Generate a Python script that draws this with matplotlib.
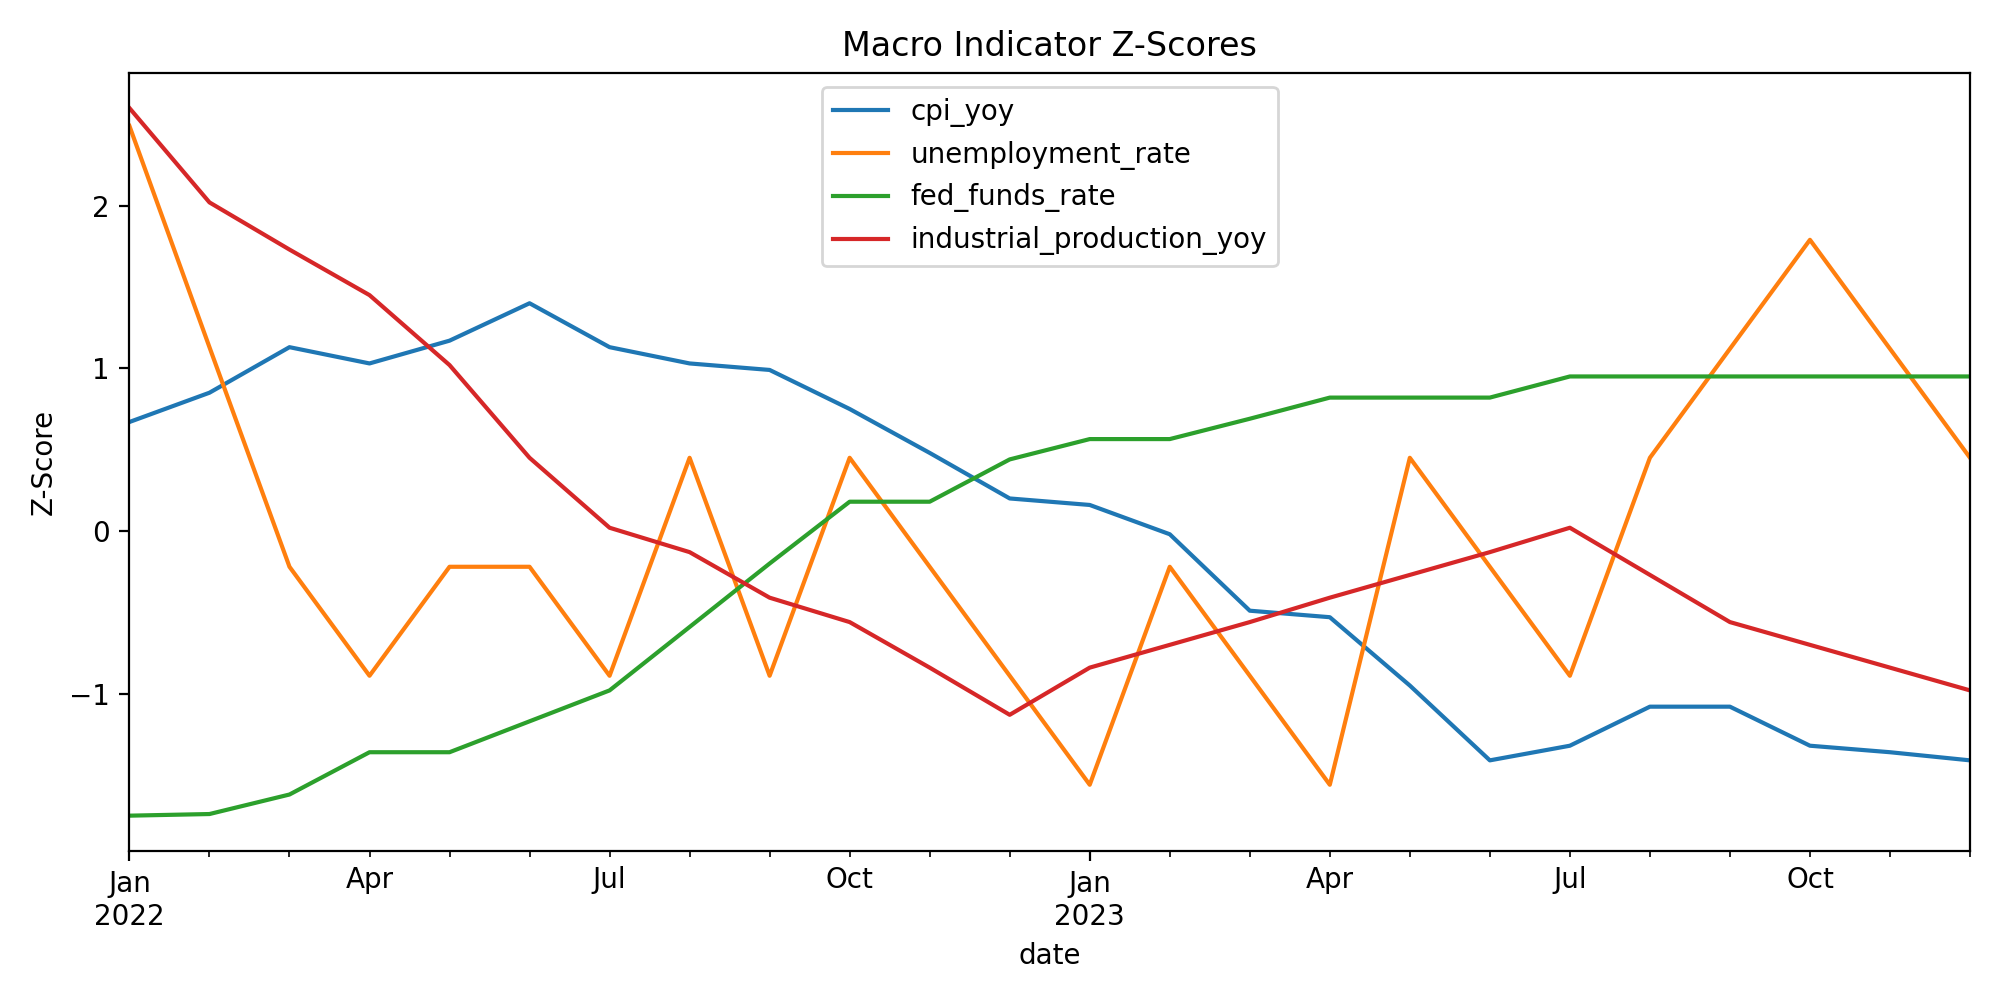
import matplotlib
matplotlib.use("Agg")
import matplotlib.pyplot as plt
import pandas as pd

dates = pd.date_range("2022-01-01", periods=24, freq="MS")

cpi_yoy = [0.67, 0.85, 1.13, 1.03, 1.17, 1.40, 1.13, 1.03, 0.99, 0.75, 0.48, 0.20,
           0.16, -0.02, -0.49, -0.53, -0.95, -1.41, -1.32, -1.08, -1.08, -1.32, -1.36, -1.41]
unemployment_rate = [2.49, 1.13, -0.22, -0.89, -0.22, -0.22, -0.89, 0.45, -0.89, 0.45, -0.22, -0.89,
                     -1.56, -0.22, -0.89, -1.56, 0.45, -0.22, -0.89, 0.45, 1.12, 1.79, 1.12, 0.45]
fed_funds_rate = [-1.75, -1.74, -1.62, -1.36, -1.36, -1.17, -0.98, -0.59, -0.20, 0.18, 0.18, 0.44,
                  0.565, 0.565, 0.69, 0.82, 0.82, 0.82, 0.95, 0.95, 0.95, 0.95, 0.95, 0.95]
industrial_production_yoy = [2.60, 2.02, 1.73, 1.45, 1.02, 0.45, 0.02, -0.13, -0.41, -0.56, -0.84, -1.13,
                             -0.84, -0.70, -0.56, -0.41, -0.27, -0.13, 0.02, -0.27, -0.56, -0.70, -0.84, -0.98]

df = pd.DataFrame({
    "cpi_yoy": cpi_yoy,
    "unemployment_rate": unemployment_rate,
    "fed_funds_rate": fed_funds_rate,
    "industrial_production_yoy": industrial_production_yoy,
}, index=pd.Index(dates, name="date"))

fig, ax = plt.subplots(figsize=(10, 5), dpi=200)
df.plot(ax=ax)
ax.set_title("Macro Indicator Z-Scores")
ax.set_ylabel("Z-Score")
ax.legend(loc="upper center")
fig.tight_layout()
fig.savefig("out.png")
